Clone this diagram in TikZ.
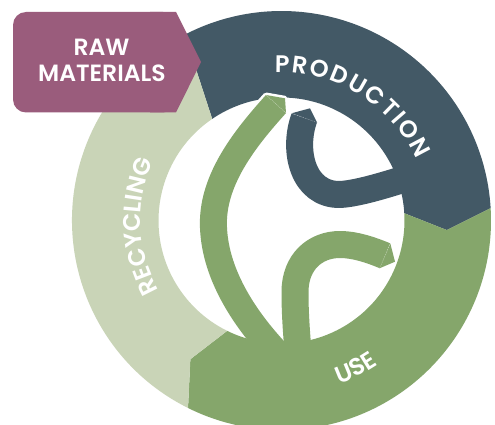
\documentclass[tikz,border=0pt]{standalone}
\usepackage{fontspec}
\setmainfont{Poppins}
\newfontfamily\ringfam{Poppins SemiBold}
\newfontfamily\boxfam{Poppins SemiBold}
\usetikzlibrary{calc,decorations.text}
\definecolor{slate}{HTML}{435966}
\definecolor{leaf}{HTML}{85A66B}
\definecolor{pale}{HTML}{C9D4B7}
\definecolor{mauve}{HTML}{9A5C7C}
\newcommand{\lblfont}{\ringfam\fontsize{24}{28}\selectfont}
\newcommand{\tk}{\kern2pt}
\tikzset{
  band/.style={line width=27pt, line cap=butt, line join=round},
  seam/.style={white, opacity=0.35, line width=0.5pt, dash pattern=on 1pt off 1pt},
  boxlbl/.style={text=white, font=\boxfam\fontsize{23.5}{25}\selectfont, anchor=base, inner sep=0pt},
  arclbl/.style={decorate, decoration={text along path, text align=center, text color=white}}
}
\begin{document}
\begin{tikzpicture}[x=1pt,y=-1pt]
\useasboundingbox (0,0) rectangle (495,425);
\fill[white] (0,0) rectangle (495,425);
\coordinate (C) at (281.5,220.5);

% ring segments
\fill[slate] ($(C)+(242.5:209.5)$) arc[start angle=242.5, end angle=356.6, radius=209.5]
  -- ($(C)+(3.3:165.5)$) -- ($(C)+(-3.4:123)$) arc[start angle=-3.4, end angle=-124.3, radius=123] -- cycle;
\fill[leaf] ($(C)+(-3.4:209.5)$) arc[start angle=-3.4, end angle=116.5, radius=209.5]
  -- ($(C)+(123.3:166)$) -- ($(C)+(116.2:123)$) arc[start angle=116.2, end angle=-3.4, radius=123]
  -- ($(C)+(3.3:165.5)$) -- cycle;
\fill[pale] ($(C)+(116.5:209.5)$) arc[start angle=116.5, end angle=242.5, radius=209.5]
  -- ($(C)+(235.7:123)$) arc[start angle=235.7, end angle=116.2, radius=123]
  -- ($(C)+(123.3:166)$) -- cycle;

% white halo of the green tip
\begin{scope}
\clip (225,80) rectangle (300,118);
\draw[band, white, line width=32pt] (276,104) .. controls (245.9,137.4) and (213.4,178) .. (213.4,223);
\end{scope}
\filldraw[white, line width=5pt, line join=round] (266,95) -- (285,98.3) -- (286,113) -- cycle;

% dark stroke
\draw[band, slate] (304.3,117.9) .. controls (292.3,150.8) and (303,195) .. (340,194.5)
  .. controls (360,193.5) and (395,182) .. (420,174);
\fill[slate] (291.6,113.3) -- (310,108.3) -- (317,122.5) -- cycle;
\draw[seam] (291.6,113.3) -- (317,122.5);

% green stem
\draw[band, leaf] (276,104) .. controls (245.9,137.4) and (213.4,178) .. (213.4,223)
  .. controls (213.4,273) and (245.2,318.4) .. (272,348) -- (290,368);
\fill[leaf] (266,95) -- (285,98.3) -- (286,113) -- cycle;
\draw[seam] (266,95) -- (286,113);

% lower green leaf
\draw[band, leaf] (299,362) .. controls (296,330) and (295,310) .. (295,292)
  .. controls (295,262) and (315,244.5) .. (340,244.5)
  .. controls (355,244.5) and (371.2,250) .. (385,255.8);
\fill[leaf] (390.3,243.4) -- (395,261.7) -- (379.7,268.2) -- cycle;
\draw[seam] (390.3,243.4) -- (379.7,268.2);

% ring labels
\path[arclbl, decoration={text={|\lblfont|{P\tk}{R\tk}{O\tk}{D\tk}{U\tk}{C\tk}{T\tk}{I\tk}{O\tk}N}}] ($(C)+(-105:148)$) arc[start angle=-105, end angle=-12, radius=148];
\path[arclbl, decoration={text={|\lblfont|RECYCLING}}] ($(C)+(140:141)$) arc[start angle=140, end angle=215, radius=141];
\path[arclbl, decoration={text={|\lblfont|USE}}] ($(C)+(82:173.5)$) arc[start angle=82, end angle=44.6, radius=173.5];

% raw materials tag
\fill[mauve, rounded corners=13pt] (13,12) rectangle (176,112.5);
\fill[mauve] (150,12) -- (176,12) -- (201,62) -- (176,112.5) -- (150,112.5) -- cycle;
\node[boxlbl] (raw) at (101.5,56) {RAW};
\node[boxlbl] (mat) at (102,81.7) {MATERIALS};
\end{tikzpicture}
\end{document}
